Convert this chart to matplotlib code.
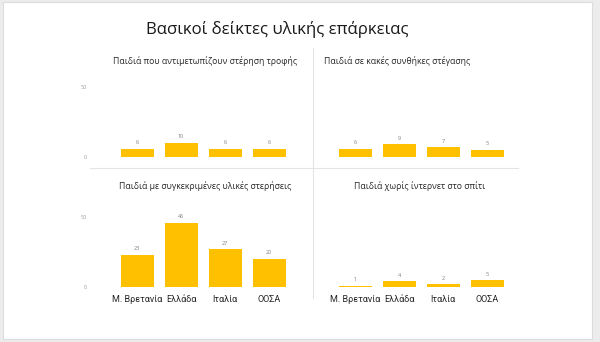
import matplotlib
matplotlib.use("Agg")
import matplotlib.pyplot as plt
from matplotlib.patches import Rectangle
from matplotlib.lines import Line2D

plt.rcParams['font.family'] = ['Open Sans', 'DejaVu Sans']

# data
countries = ["Μ. Βρετανία", "Ελλάδα", "Ιταλία", "ΟΟΣΑ"]
main_title = "Βασικοί δείκτες υλικής επάρκειας"
panel_titles = [
    "Παιδιά που αντιμετωπίζουν στέρηση τροφής",
    "Παιδιά σε κακές συνθήκες στέγασης",
    "Παιδιά με συγκεκριμένες υλικές στερήσεις",
    "Παιδιά χωρίς ίντερνετ στο σπίτι",
]
food = [6, 10, 6, 6]
housing = [6, 9, 7, 5]
material = [23, 46, 27, 20]
internet = [1, 4, 2, 5]
panel_values = [food, housing, material, internet]

W, H = 600, 342
BAR = "#FFC000"


def px_axes(fig, x0, y_bottom, w, h):
    # position given in pixels from the top-left corner
    return fig.add_axes([x0 / W, (H - y_bottom) / H, w / W, h / H])


def main():
    fig = plt.figure(figsize=(W / 100, H / 100), dpi=100)
    fig.patch.set_facecolor("#ececec")

    # white slide, kept behind the axes
    fig.patches.append(Rectangle((3 / W, 1 - 339 / H), 589 / W, 337 / H,
                                 transform=fig.transFigure, facecolor="white",
                                 edgecolor="#dcdcdc", linewidth=0.8, zorder=-5))

    fig.text(277 / W, 1 - 29 / H, main_title, ha="center", va="center",
             fontsize=12.1, color="#1a1a1a")

    # divider lines
    fig.lines.append(Line2D([313 / W, 313 / W], [1 - 48 / H, 1 - 298 / H],
                            transform=fig.transFigure, color="#e4e4e4", lw=0.8))
    fig.lines.append(Line2D([90 / W, 518 / W], [1 - 168 / H, 1 - 168 / H],
                            transform=fig.transFigure, color="#e4e4e4", lw=0.8))

    # panel layout: left x, zero line y, title position
    layout = [
        (115, 157, (205, 61), True),
        (333, 157, (397, 61), False),
        (115, 287, (205, 186), True),
        (333, 287, (420, 186), False),
    ]

    for i, (x0, y0, (tx, ty), show_y) in enumerate(layout):
        vals = panel_values[i]
        ax = px_axes(fig, x0, y0, 176, 70)
        ax.bar(range(len(countries)), vals, width=0.75, color=BAR)
        ax.set_xlim(-0.5, 3.5)
        ax.set_ylim(0, 50)
        for k, v in enumerate(vals):
            ax.text(k, v + 2.5, str(v), ha="center", va="bottom",
                    fontsize=4, color="#7f7f7f")
        for s in ax.spines.values():
            s.set_visible(False)
        ax.set_facecolor("none")
        ax.tick_params(length=0)
        if show_y:
            ax.set_yticks([0, 50])
            ax.tick_params(axis="y", labelsize=4, labelcolor="#9a9a9a", pad=20)
        else:
            ax.set_yticks([])
        if i >= 2:
            ax.set_xticks(range(len(countries)))
            ax.set_xticklabels(countries, fontsize=6.5, color="#262626",
                               family=["Roboto", "DejaVu Sans"])
            ax.tick_params(axis="x", pad=6)
        else:
            ax.set_xticks([])
        fig.text(tx / W, 1 - ty / H, panel_titles[i], ha="center", va="center",
                 fontsize=6.2, color="#262626")

    fig.savefig("out.png", dpi=100)


if __name__ == "__main__":
    main()
